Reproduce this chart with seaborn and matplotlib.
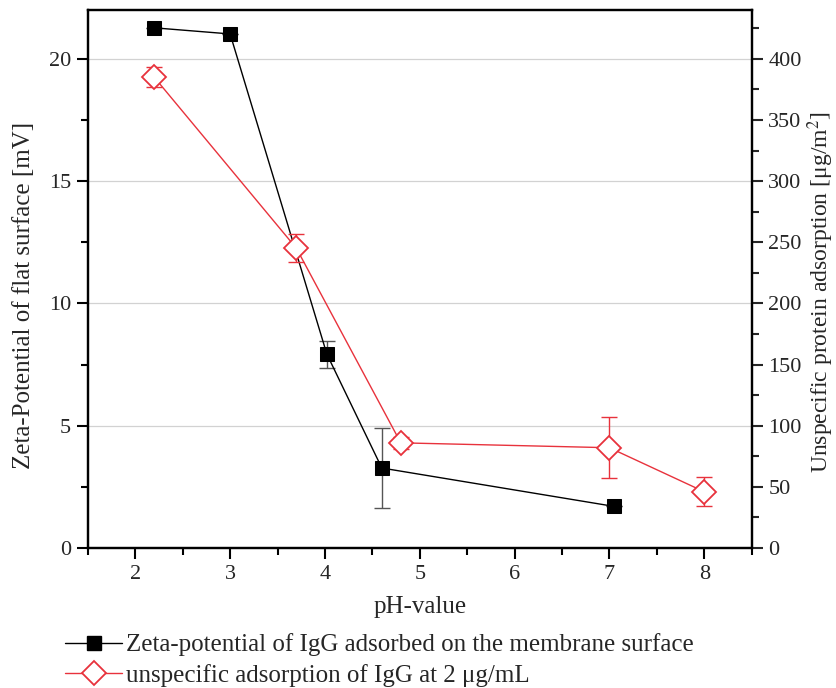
import numpy as np
import pandas as pd
import seaborn as sns
import matplotlib.pyplot as plt
from matplotlib.ticker import MultipleLocator
from matplotlib.lines import Line2D

# Zeta-potential of adsorbed IgG (left axis)
ph_zeta = [2.2, 3.0, 4.02, 4.6, 7.05]
zeta_mv = [21.27, 21.02, 7.93, 3.27, 1.70]
zeta_err = [0.0, 0.0, 0.55, 1.63, 0.0]

# Unspecific IgG adsorption (right axis)
ph_ads = [2.2, 3.7, 4.8, 7.0, 8.0]
ads_ugm2 = [385, 245, 86, 82, 46]
ads_err = [8, 11.5, 5, 25, 12]

x_ticks = [2, 3, 4, 5, 6, 7, 8]

sns.set_style("white")
plt.rcParams['font.family'] = ['Liberation Serif', 'DejaVu Serif']
plt.rcParams['mathtext.fontset'] = 'stix'

fig = plt.figure(figsize=(8.37, 6.88), dpi=100)
ax = fig.add_axes([0.105, 0.2035, 0.793, 0.782])
ax2 = ax.twinx()

red = '#e8323c'
df_z = pd.DataFrame({'ph': ph_zeta, 'zeta': zeta_mv})
df_a = pd.DataFrame({'ph': ph_ads, 'ads': ads_ugm2})

ax.errorbar(ph_zeta, zeta_mv, yerr=zeta_err, fmt='none', ecolor='#555555',
            elinewidth=1, capsize=6, capthick=1, zorder=3)
sns.lineplot(data=df_z, x='ph', y='zeta', ax=ax, color='black', lw=1,
             marker='s', markersize=10, markerfacecolor='black',
             markeredgecolor='black', zorder=4, legend=False)

ax2.errorbar(ph_ads, ads_ugm2, yerr=ads_err, fmt='none', ecolor=red,
             elinewidth=1, capsize=6, capthick=1, zorder=3)
sns.lineplot(data=df_a, x='ph', y='ads', ax=ax2, color=red, lw=1,
             marker='D', markersize=12, markerfacecolor='white',
             markeredgecolor=red, markeredgewidth=1.3, zorder=4, legend=False)

ax.set_xlim(1.5, 8.5)
ax.set_ylim(0, 22)
ax2.set_ylim(0, 440)
ax.set_xticks(x_ticks)
ax.xaxis.set_minor_locator(MultipleLocator(0.5))
ax.yaxis.set_major_locator(MultipleLocator(5))
ax.yaxis.set_minor_locator(MultipleLocator(2.5))
ax2.yaxis.set_major_locator(MultipleLocator(50))
ax2.yaxis.set_minor_locator(MultipleLocator(25))

ax.grid(axis='y', which='major', color='#d2d2d2', lw=0.9)
ax.set_axisbelow(True)

for a in (ax, ax2):
    for s in a.spines.values():
        s.set_linewidth(1.6)
        s.set_color('black')

ax.tick_params(axis='both', which='major', direction='out', length=8, width=1.5,
               labelsize=16, color='black', bottom=True, left=True, pad=4)
ax.tick_params(axis='both', which='minor', direction='out', length=5, width=1.5,
               color='black', bottom=True, left=True)
ax2.tick_params(axis='y', which='major', direction='out', length=8, width=1.5,
                labelsize=16, right=True, pad=4)
ax2.tick_params(axis='y', which='minor', direction='out', length=5, width=1.5,
                right=True)

ax.set_xlabel('pH-value', fontsize=18, labelpad=9)
ax.set_ylabel('Zeta-Potential of flat surface [mV]', fontsize=18)
ax2.set_ylabel('Unspecific protein adsorption [μg/m$^2$]', fontsize=17)
ax.yaxis.set_label_coords(-0.080, 0.47)
ax2.yaxis.set_label_coords(1.081, 0.476)

handles = [
    Line2D([], [], color='black', lw=1, marker='s', markersize=10,
           markerfacecolor='black', markeredgecolor='black'),
    Line2D([], [], color=red, lw=1, marker='D', markersize=12,
           markerfacecolor='white', markeredgecolor=red, markeredgewidth=1.3),
]
labels = ['Zeta-potential of IgG adsorbed on the membrane surface',
          'unspecific adsorption of IgG at 2 μg/mL']
fig.legend(handles, labels, loc='lower left', bbox_to_anchor=(0.076, 0.0),
           frameon=False, fontsize=18, handlelength=2.3, handletextpad=0.15,
           labelspacing=0.3, borderaxespad=0.0, borderpad=0.05)

fig.savefig('out.png', dpi=100)
